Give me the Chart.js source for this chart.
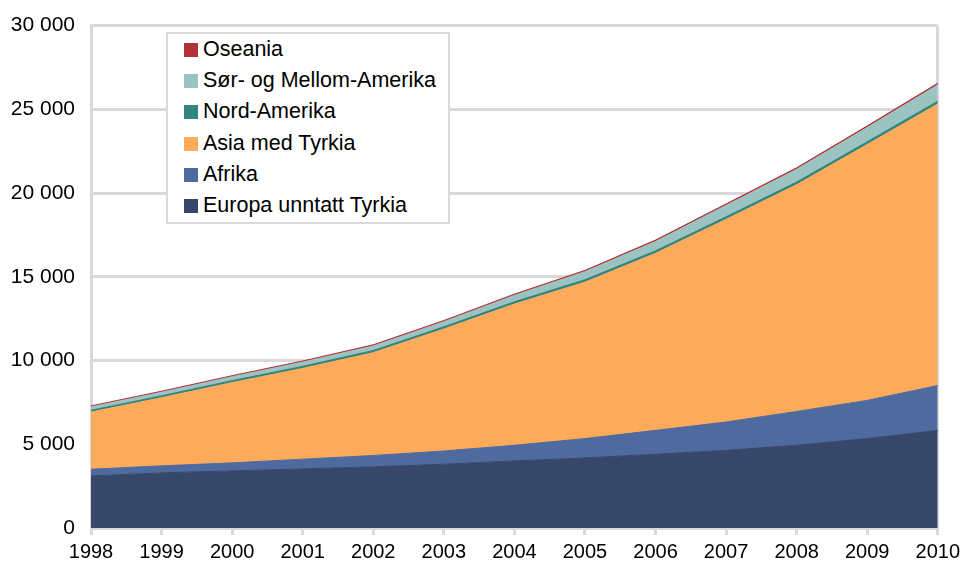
<!DOCTYPE html>
<html>
<head>
<meta charset="utf-8">
<script src="https://cdn.jsdelivr.net/npm/chart.js@4/dist/chart.umd.min.js"></script>
<style>
  html, body { margin: 0; padding: 0; background: #fff; }
  #wrap { position: relative; width: 962px; height: 563px; overflow: hidden; }
  #chart { position: absolute; left: 0; top: -3px; }
  #legend {
    position: absolute; left: 166px; top: 32px; width: 280px; height: 188px;
    border: 2px solid #d9d9d9; background: #fff; box-sizing: content-box;
    font-family: "Liberation Sans", Arial, sans-serif; font-size: 21.5px; color: #000;
  }
  #legend div { position: absolute; left: 16px; height: 24px; line-height: 24px; white-space: nowrap; }
  #legend span { display: inline-block; width: 14px; height: 14px; margin-right: 5px; vertical-align: -1px; }
</style>
</head>
<body>
<div id="wrap">
  <canvas id="chart" width="965" height="566"></canvas>
  <div id="legend"></div>
</div>
<script>
// Data (persons, stacked)
const years = ['1998', '1999', '2000', '2001', '2002', '2003', '2004', '2005', '2006', '2007', '2008', '2009', '2010'];
const europa = [3110, 3290, 3410, 3530, 3650, 3810, 4005, 4185, 4405, 4640, 4940, 5340, 5830];
const afrika = [400, 420, 480, 580, 680, 790, 935, 1155, 1425, 1690, 2020, 2280, 2680];
const asia = [3410, 4070, 4790, 5420, 6140, 7280, 8430, 9340, 10570, 12100, 13540, 15280, 16810];
const nordAmerika = [110, 115, 120, 125, 130, 135, 140, 145, 150, 155, 160, 165, 170];
const sorAmerika = [200, 210, 230, 250, 270, 300, 380, 480, 560, 680, 760, 850, 970];
const oseania = [60, 62, 65, 68, 70, 72, 75, 78, 82, 86, 90, 95, 100];
const yTicks = [0, 5000, 10000, 15000, 20000, 25000, 30000];

const series = [
  { label: 'Europa unntatt Tyrkia', data: europa, color: '#36476a' },
  { label: 'Afrika', data: afrika, color: '#4e6a9f' },
  { label: 'Asia med Tyrkia', data: asia, color: '#fdab5b' },
  { label: 'Nord-Amerika', data: nordAmerika, color: '#31857f' },
  { label: 'Sør- og Mellom-Amerika', data: sorAmerika, color: '#9bc3c1' },
  { label: 'Oseania', data: oseania, color: '#b03236' }
];

const grey = '#d9d9d9';
const fmt = v => String(v).replace(/\B(?=(\d{3})+(?!\d))/g, ' ');

const chart = new Chart(document.getElementById('chart'), {
  type: 'line',
  data: {
    labels: years,
    datasets: series.map((s, i) => ({
      label: s.label,
      data: s.data,
      backgroundColor: s.color,
      borderColor: s.color,
      borderWidth: 1,
      pointRadius: 0,
      tension: 0,
      fill: i === 0 ? 'origin' : '-1'
    }))
  },
  options: {
    responsive: false,
    animation: false,
    layout: { padding: { left: 0, right: 21, top: 6, bottom: 0 } },
    plugins: { legend: { display: false }, tooltip: { enabled: false } },
    scales: {
      x: {
        offset: false,
        afterFit: axis => { axis.height = 35; },
        grid: {
          color: c => (c.index === 0 || c.index === years.length - 1) ? grey : 'rgba(0,0,0,0)',
          tickColor: grey,
          lineWidth: 3,
          tickLength: 7
        },
        border: { display: true, color: grey, width: 3 },
        ticks: {
          color: '#000', padding: 5, maxRotation: 0, autoSkip: false,
          font: { family: '"Liberation Sans", Arial, sans-serif', size: 20 }
        }
      },
      y: {
        stacked: true,
        min: 0,
        max: 30000,
        afterBuildTicks: axis => { axis.ticks = yTicks.map(v => ({ value: v })); },
        afterFit: axis => { axis.width = 91; },
        grid: { color: grey, lineWidth: 3, drawTicks: false },
        border: { display: true, color: grey, width: 3 },
        ticks: {
          color: '#000', padding: 16,
          callback: v => fmt(v),
          font: { family: '"Liberation Sans", Arial, sans-serif', size: 21 }
        }
      }
    }
  }
});

// Legend, top entry = last series
const legend = document.getElementById('legend');
series.slice().reverse().forEach((s, i) => {
  const row = document.createElement('div');
  row.style.top = (3 + i * 31.2) + 'px';
  row.innerHTML = `<span style="background:${s.color}"></span>${s.label}`;
  legend.appendChild(row);
});
</script>
</body>
</html>
